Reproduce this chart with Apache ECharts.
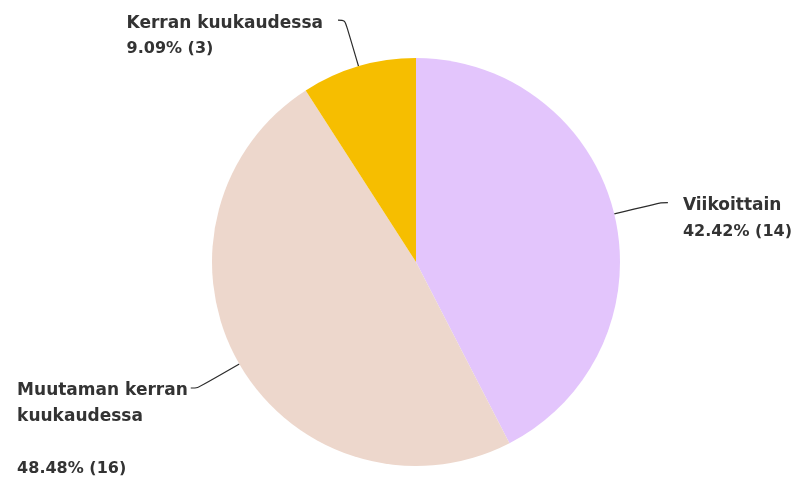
<!DOCTYPE html>
<html>
<head>
<meta charset="utf-8">
<script src="https://cdn.jsdelivr.net/npm/echarts@6/dist/echarts.min.js"></script>
<style>
  html, body { margin: 0; padding: 0; background: #ffffff; }
  #chart { width: 799px; height: 478px; }
</style>
</head>
<body>
<div id="chart"></div>
<script>
// Answer categories, response counts and slice colours
const categories = ['Viikoittain', 'Muutaman kerran kuukaudessa', 'Kerran kuukaudessa'];
const counts = [14, 16, 3];
const colors = ['#e3c5fc', '#edd7cc', '#f6be00'];
// How each category name is broken onto lines in its label
const nameLines = [['Viikoittain'], ['Muutaman kerran', 'kuukaudessa', ''], ['Kerran kuukaudessa']];

const LINE_H = 26;
const FONT = 'DejaVu Sans';
const total = counts.reduce((a, b) => a + b, 0);

const data = categories.map((name, i) => {
  const lines = nameLines[i];
  return {
    name: name,
    value: counts[i],
    itemStyle: { color: colors[i] },
    label: {
      // top padding keeps the first text line level with the end of the label line
      padding: [lines.length * LINE_H + 6, 0, 0, 0],
      distanceToLabelLine: i === 1 ? 3 : 15
    }
  };
});

const textStyle = (size) => ({
  align: 'left',
  fontFamily: FONT,
  fontSize: size,
  fontWeight: 'bold',
  color: '#333333',
  lineHeight: LINE_H
});

const chart = echarts.init(document.getElementById('chart'), null, { renderer: 'canvas' });
chart.setOption({
  backgroundColor: '#ffffff',
  animation: false,
  series: [{
    type: 'pie',
    center: [416, 262],
    radius: 204,
    startAngle: 90,
    clockwise: true,
    avoidLabelOverlap: false,
    data: data,
    label: {
      show: true,
      position: 'outside',
      alignTo: 'none',
      bleedMargin: 0,
      overflow: 'none',
      fontFamily: FONT,
      fontSize: 16,
      fontWeight: 'bold',
      color: '#333333',
      lineHeight: LINE_H,
      formatter: (p) => {
        const pct = (p.value / total * 100).toFixed(2);
        const lines = nameLines[p.dataIndex].map(s => '{n|' + s + '}');
        lines.push('{p|' + pct + '% (' + p.value + ')}');
        return lines.join('\n');
      },
      rich: {
        n: textStyle(17),
        p: textStyle(16)
      }
    },
    labelLine: {
      show: true,
      length: 48,
      length2: 7,
      smooth: 0.3,
      lineStyle: { color: '#2b2b2b', width: 1.2 }
    },
    emphasis: { disabled: true }
  }]
});
</script>
</body>
</html>
